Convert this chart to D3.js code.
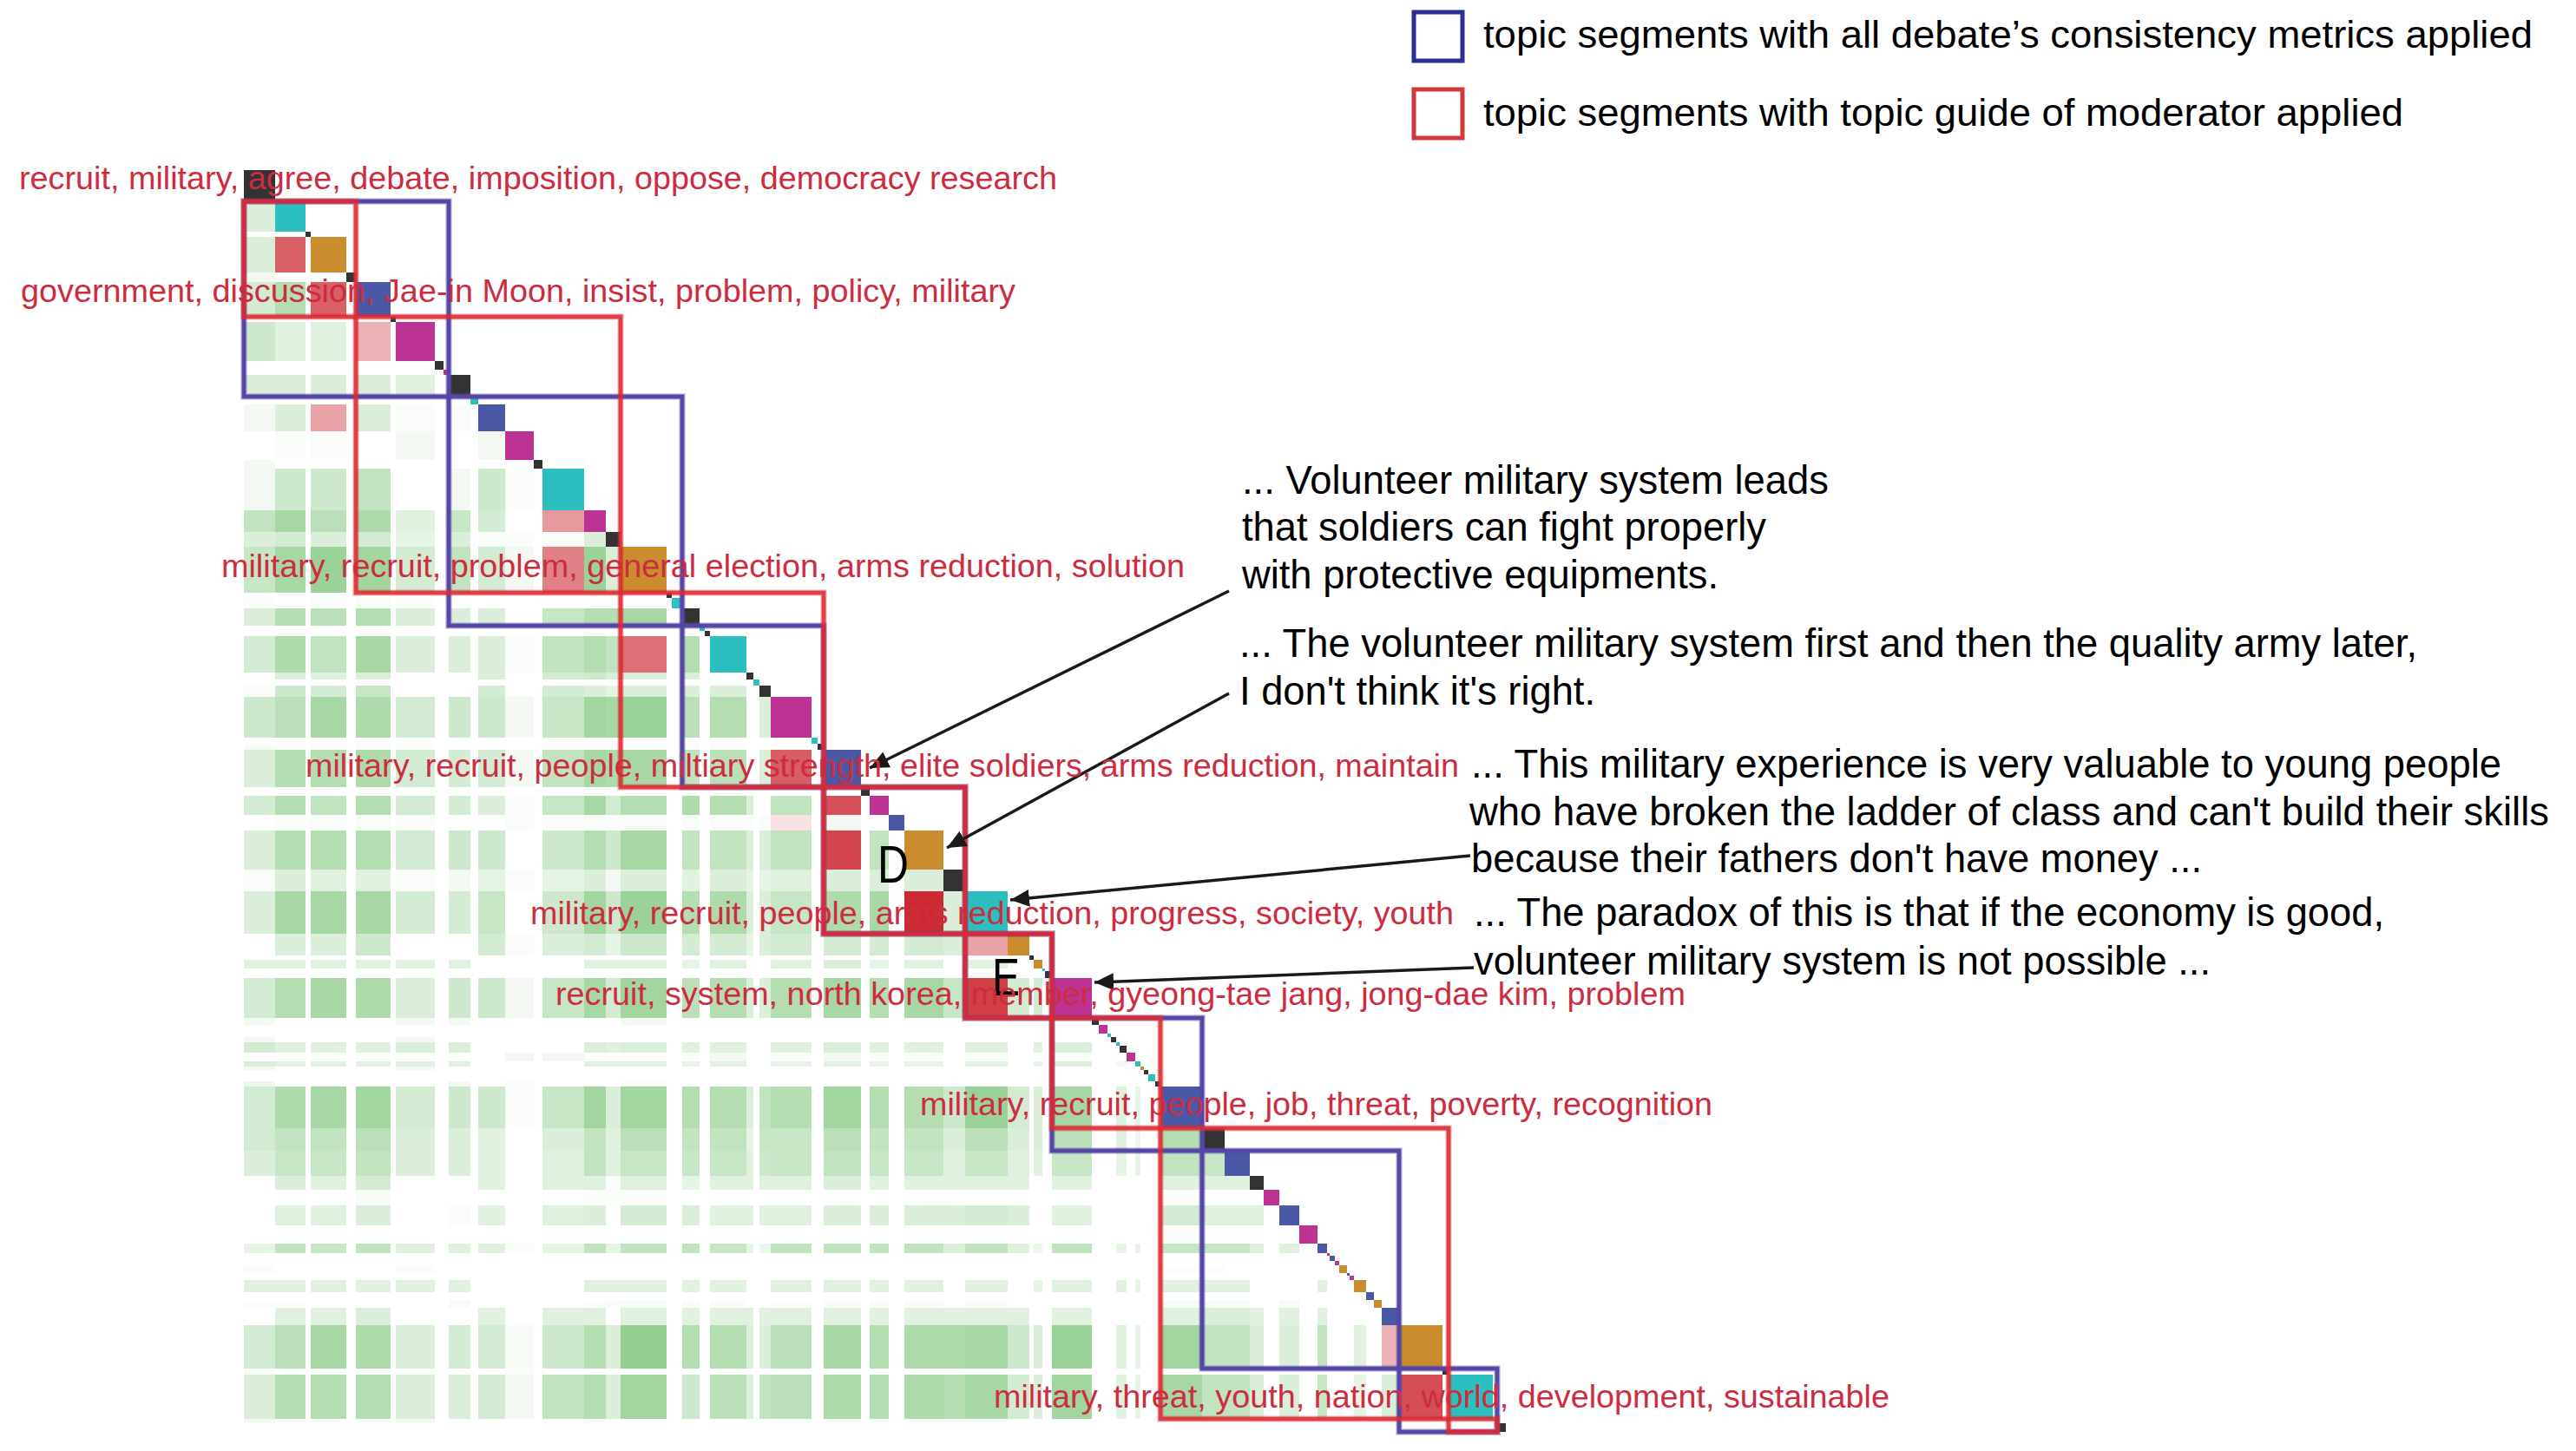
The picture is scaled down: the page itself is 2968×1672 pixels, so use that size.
<!DOCTYPE html>
<html><head><meta charset="utf-8">
<script src="https://cdn.jsdelivr.net/npm/d3@7/dist/d3.min.js"></script>
<style>html,body{margin:0;background:#fff}svg{display:block}text{font-family:"Liberation Sans",Arial,sans-serif}</style>
</head><body><svg id="c" width="2968" height="1672"></svg>
<script>
// sentence-length of each segment along the diagonal, and its topic colour
const segmentLengths=[36,35,6,41,11,40,6,45,10,6,25,9,31,33,10,48,25,17,53,6,12,20,6,6,42,8,7,13,47,7,7,43,10,22,18,45,25,49,25,5,10,3,8,46,8,10,4,6,4,8,10,6,4,5,8,6,48,26,29,16,18,23,21,11,3,6,5,9,3,5,14,9,9,20,50,7,51,5,10];
const segmentTopics="k c k o k b k m k m k c b m k c m k o k c k c k c k c k m c k b k m b o k c o k o c k m k m c k c k m c o k c k b k b k m b m b m b m o b m o b o b o k c w k".split(" ");
const topicColors={k:"#333333",c:"#2bbfbf",o:"#ca8c2d",b:"#4a58a6",m:"#bd3393",w:"#ffffff"};

// matrix columns that carry any similarity: first and last segment of each
const columnFirst=[0,1,3,5,7,10,12,13,15,16,17,18,21,24,25,27,28,31,33,35,36,37,38,40,43,48,51,56,57,58,59,61,63,70,73];
const columnLast =[0,1,3,5,7,10,12,13,15,16,17,18,21,24,25,27,28,31,33,35,36,37,38,40,43,49,51,56,57,58,59,61,63,70,73];
// rows: [first segment, last segment, similarity level per column]
const matrixRows=[
[1,1,[3]],[3,3,[3]],[4,4,[1]],[5,5,[3.5,6]],[7,7,[4,2.5,2.5]],
[10,10,[3,3,3,3,2.5]],[12,12,[1,3,0,3,.5,.5]],[13,13,[0,.5,.5,0,1,0,1]],[14,14,[1]],
[15,15,[1,4,4,5,0,1,4,.5]],[16,16,[5,7,5.5,6.5,2.5,4.5,3.5,0,0]],
[17,17,[3,3.5,3,3.5,2,3,.5,.5,.5,3]],[18,18,[4.5,7,8,7.5,3.5,5,3.5,1,0,8,3]],
[20,20,[.5,0,.5,.5,.5]],[21,21,[3,6,5.5,6,3,3,3,0,4.5,6,6,7]],
[24,24,[3.5,6.5,5,7,3,3,3,.5,5,6,5,0,6]],[25,25,[0,3,2.5,3,0,0,3,0,3.5,4,3,3,3]],
[27,27,[.5,4,3.5,4.5,0,0,3.5,0,3.5,3,2,3,3,3,0]],
[28,28,[4,5.5,7,6.5,3.5,4,4,1,4.5,7.5,7,8,5.5,6,0,3]],
[30,30,[.7,.5,.5,.5,.5,0,0,0,.5,.5,.5,.5,.5,.5]],
[31,31,[3,6,6,6.5,3.5,3.5,3.5,1,5,7,6.5,7,5,5.5,0,3,0]],
[33,33,[3.5,6,5,6,3.5,3.5,3,.5,4.5,7,3.5,6,6.5,6,3,0,5,0]],
[34,34,[0,.5,.5,.5,.5,0,0,.5,.3,.5,.5,.5,.5,.5,.5,.5,0,1]],
[35,35,[3,6,6,6,3.5,4,4,0,4,6,4,7,5,5,3,3,5,0,5]],
[36,36,[.5,3,2.5,2.5,.5,1,2,.5,2,3,1,3,2.5,3,2,2,2.5,3,3,3]],
[37,37,[3,7,7,7,3.5,3.5,4.5,0,4,7.5,4,8,6,6.5,3,3,4.5,6.5,7,0,3]],
[38,38,[0,3,3,4,0,0,3.5,.5,3,3.5,2,4,3.5,3.5,2,3,3.5,3.5,3.5,3.5,3,0]],
[40,40,[2.5,2.5,2.5,2.5,2.5,2.5,0,0,0,2.5,2.5,2.5,2,2.5,0,0,2.5,3,2,2.5,0,2.5,0]],
[43,43,[3.5,6,7,6.5,3,4,4,1,4.5,7,3.5,7.5,5.5,6,3,3,6,7,6,7,4.5,0,3.5,3.5]],
[44,44,[1,0,0,0,1,1,0,0,0,0,0,1]],[47,47,[1,0,0,0,1]],
[48,49,[3.5,2.5,2.5,2.5,3,3,0,0,0,3,2.5,3,2.5,2.5,0,0,2.5,3,2.5,2.5,0,2.5,0,2.5,3]],
[50,50,[0,.3,.3,.3,.3,0,0,1,1,0,0,0,.3,1,0,0,.3,1,.5,.3,0,.3,0,0,.5]],
[51,51,[3,2.5,2.5,2.5,2.5,2.5,0,0,0,2.5,2.5,2.5,2,2.5,0,0,2,2.5,2,2,0,2.5,0,2,3,1]],
[52,52,[1,0,0,0,1]],[55,55,[1.5,0,0,0,0,1,0,.5,0,0,0,.5]],
[56,56,[3.5,6.5,7,7.5,3.5,4,4,.5,4.5,7.5,3,7.5,6,6,3,5,6,7.5,6,6,4,8,3.5,3,7,2.5,2]],
[57,57,[3.5,5,5,5.5,3,3,2.5,0,3,5,2.5,5.5,5,5,2,4.5,4.5,5.5,5,5,3,5.5,3,3,5.5,2.5,1.5,6]],
[58,58,[3,4.5,4.5,5,3,3,2.5,0,2.5,5,2.5,4.5,4.5,4.5,2.5,4,4.5,5,4.5,4.5,2.5,4.5,2.5,2.5,4.5,2,2,5,4.5]],
[59,59,[0,3,2.5,3.5,0,0,2.5,0,2.5,2.5,.5,2.5,2,2.5,2.5,2.5,2.5,3,2.5,2.5,2.5,2.5,2.5,0,2.5,0,0,2.5,2.5,2.5]],
[60,60,[0,0,0,.7,0,0,0,0,0,.3,.3,.3,0,0,0,0,0,0,0,0,0,0,0,0,0,0,0,.3]],
[61,61,[0,2.5,2.5,3,0,.5,2.5,0,2.5,3,0,3.5,3,2.5,2.5,2.5,2.5,3,3,3,3,3.5,3,0,2.5,0,0,3.5,2.5,2.5,2.5]],
[62,62,[0,0,0,0,0,0,0,0,0,0,0,0,0,0,0,0,0,0,0,0,0,0,0,0,0,0,0,.3]],
[63,63,[2,5,4.5,5,2.5,2.5,2.5,.5,2,5,2,5,5,4.5,2,1.5,5,5,5,5,3,5,2.5,1.5,5,2,2,4.5,4.5,4.5,2.5,2.5]],
[67,67,[.5,0,0,0,.5,0,0,0,0,0,0,0,0,0,0,0,0,0,0,0,0,0,0,0,0,0,0,.3,.3]],
[70,70,[2.5,2.5,2.5,2.5,2.5,2.5,0,0,0,2.5,2.5,2.5,2.5,2.5,0,0,2.5,2.5,2.5,2.5,0,2.5,0,2,2.5,2.5,2,2.5,2.5,2.5,0,0,2.5]],
[72,72,[.3,.3,0,0,0,.7,0,0,0,.3,.5,.7,.5,.5,0,0,.3,.5,.5,.5,0,.5,0,0,0,0,0,.7,.7,.7,0,.7]],
[73,73,[0,2.5,2.5,3,0,0,2.5,0,2.5,2.5,0,2.5,2.5,2.5,2.5,2.5,2.5,2.5,2.5,2.5,2.5,2.5,2.5,0,2.5,0,0,2.5,3,3,2.5,2.5,2.5]],
[74,74,[3.5,5.5,7,6.5,3,3.5,3.5,.7,4,6,3,8.5,6,6,3,3,5.5,7,6,6.5,6.5,7,4,3,8,2.5,2,7.5,5,5,3,3,5,2.5,0]],
[75,75,[.7,.3,.3,.3,.3,0,0,.5]],
[76,76,[3,6,6,6,3,3,3.5,1,5,6,3,7.5,4,5.5,3,5,5.5,6.5,6,6.5,6,7,3.5,3,7.5,2.5,2,7,5,5,3,3,4.5,2,3]],
[77,77,[1,0,0,0,1,0,0,0,0,0,0,0,0,0,0,0,.5]]
];
// boundary-crossing segment pairs drawn in red: [row segment, column segment, strength]
const redCells=[[3,1,.75],[5,3,.75],[7,5,.36],[12,3,.43],[16,15,.48],[18,15,.59],[24,18,.67],[31,28,.76],[33,31,.82],[34,28,.14],[35,31,.87],[37,35,1],[38,37,.43],[43,37,.9],[74,73,.36],[76,74,.83]];

// topic boxes as segment boundaries: [col start, col end, row start, row end]
const blueBoxes=[[0,10,1,11],[10,21,11,22],[21,31,22,32],[31,37,32,38],[37,43,38,44],[43,57,44,58],[57,74,58,75],[74,78,75,79]];
const redBoxes=[[0,5,1,6],[5,18,6,19],[18,31,19,32],[31,37,32,38],[37,43,38,44],[43,56,44,57],[56,76,57,77],[76,78,77,79]];

// keyword labels: text, left, right, baseline
const keywordLabels=[
["recruit, military, agree, debate, imposition, oppose, democracy research",22,1218,218],
["government, discussion, Jae-in Moon, insist, problem, policy, military",24,1170,348],
["military, recruit, problem, general election, arms reduction, solution",255,1365,665],
["military, recruit, people, miltiary strength, elite soldiers, arms reduction, maintain",352,1681,895],
["military, recruit, people, arms reduction, progress, society, youth",611,1675,1065],
["recruit, system, north korea, member, gyeong-tae jang, jong-dae kim, problem",640,1942,1158],
["military, recruit, people, job, threat, poverty, recognition",1060,1973,1285],
["military, threat, youth, nation, world, development, sustainable",1145,2177,1622]];
// quotes: text, left, right, baseline
const quoteLines=[
["... Volunteer military system leads",1431,2107,569],
["that soldiers can fight properly",1431,2035,623],
["with protective equipments.",1431,1980,678],
["... The volunteer military system first and then the quality army later,",1428,2785,757],
["I don't think it's right.",1428,1838,812],
["... This military experience is very valuable to young people",1695,2882,896],
["who have broken the ladder of class and can't build their skills",1693,2937,951],
["because their fathers don't have money ...",1695,2537,1005],
["... The paradox of this is that if the economy is good,",1698,2747,1067],
["volunteer military system is not possible ...",1698,2547,1123]];
// arrows: from, to
const arrows=[[1416,681,1002,885],[1416,799,1091,977],[1694,986,1164,1037],[1698,1115,1261,1132]];
// panel letters: text, left, right, baseline
const panelLetters=[["D",1011,1047,1017],["E",1143,1175,1147]];
// legend
const legendItems=[["topic segments with all debate\u2019s consistency metrics applied","#2c2f92",12,72,1709,2918,55],
["topic segments with topic guide of moderator applied","#d03a3c",101,161,1709,2769,145]];

const boundaries=[0];segmentLengths.forEach(l=>boundaries.push(boundaries[boundaries.length-1]+l));
const total=boundaries[boundaries.length-1];
const x=d3.scaleLinear().domain([0,total]).range([281,1735]);
const y=d3.scaleLinear().domain([0,total]).range([196,1650]);
const green=d3.scaleLinear().domain([0,9]).range(["#ffffff","#8fcc8c"]);
const red=d3.scaleLinear().domain([0,1]).range(["#ffffff","#cc2a33"]);
const svg=d3.select("#c");

const cells=[];
matrixRows.forEach(([rf,rl,lv])=>lv.forEach((v,i)=>{if(v>0)cells.push({rf,rl,cf:columnFirst[i],cl:columnLast[i],c:green(v)})}));
redCells.forEach(([r,c,v])=>cells.push({rf:r,rl:r,cf:c,cl:c,c:red(v)}));
svg.append("g").selectAll("rect").data(cells).join("rect")
 .attr("x",d=>x(boundaries[d.cf])).attr("width",d=>x(boundaries[d.cl+1])-x(boundaries[d.cf]))
 .attr("y",d=>y(boundaries[d.rf])).attr("height",d=>y(boundaries[d.rl+1])-y(boundaries[d.rf]))
 .attr("fill",d=>d.c);
svg.append("g").selectAll("rect").data(segmentLengths).join("rect")
 .attr("x",(d,i)=>x(boundaries[i])).attr("width",(d,i)=>x(boundaries[i+1])-x(boundaries[i]))
 .attr("y",(d,i)=>y(boundaries[i])).attr("height",(d,i)=>y(boundaries[i+1])-y(boundaries[i]))
 .attr("fill",(d,i)=>topicColors[segmentTopics[i]]);

function boxes(data,color,op,w){svg.append("g").selectAll("rect").data(data).join("rect")
 .attr("x",d=>x(boundaries[d[0]])).attr("width",d=>x(boundaries[d[1]])-x(boundaries[d[0]]))
 .attr("y",d=>y(boundaries[d[2]])).attr("height",d=>y(boundaries[d[3]])-y(boundaries[d[2]]))
 .attr("fill","none").attr("stroke",color).attr("stroke-width",w).attr("stroke-opacity",op);}
boxes(blueBoxes,"#5646a6",.25,8);
boxes(blueBoxes,"#5646a6",1,5);
boxes(redBoxes,"#dc2a32",.2,8);
boxes(redBoxes,"#dc2a32",.88,5);

const fit=(sel)=>sel.attr("x",d=>d[1]).attr("y",d=>d[3]).attr("textLength",d=>d[2]-d[1]).attr("lengthAdjust","spacingAndGlyphs").text(d=>d[0]);
svg.append("defs").append("marker").attr("id","h").attr("viewBox","0 0 20 18").attr("refX",20).attr("refY",9)
 .attr("markerUnits","userSpaceOnUse").attr("markerWidth",22).attr("markerHeight",20).attr("orient","auto")
 .append("path").attr("d","M0,0L20,9L0,18Z").attr("fill","#1a1a1a");
svg.append("g").selectAll("line").data(arrows).join("line")
 .attr("x1",d=>d[0]).attr("y1",d=>d[1]).attr("x2",d=>d[2]).attr("y2",d=>d[3])
 .attr("stroke","#1a1a1a").attr("stroke-width",3.5).attr("marker-end","url(#h)");
fit(svg.append("g").attr("fill","#000").attr("font-size",62).selectAll("text").data(panelLetters).join("text"));
fit(svg.append("g").attr("fill","#cd2c40").attr("font-size",37).selectAll("text").data(keywordLabels).join("text"));
fit(svg.append("g").attr("fill","#000").attr("font-size",46).selectAll("text").data(quoteLines).join("text"));

const lg=svg.append("g");
lg.selectAll("rect").data(legendItems).join("rect").attr("x",1629).attr("width",56)
 .attr("y",d=>d[2]+2).attr("height",d=>d[3]-d[2]-4).attr("fill","none").attr("stroke",d=>d[1]).attr("stroke-width",5);
lg.selectAll("text").data(legendItems).join("text").attr("x",d=>d[4]).attr("y",d=>d[6])
 .attr("textLength",d=>d[5]-d[4]).attr("lengthAdjust","spacingAndGlyphs").attr("font-size",44).attr("fill","#000").text(d=>d[0]);
</script></body></html>
